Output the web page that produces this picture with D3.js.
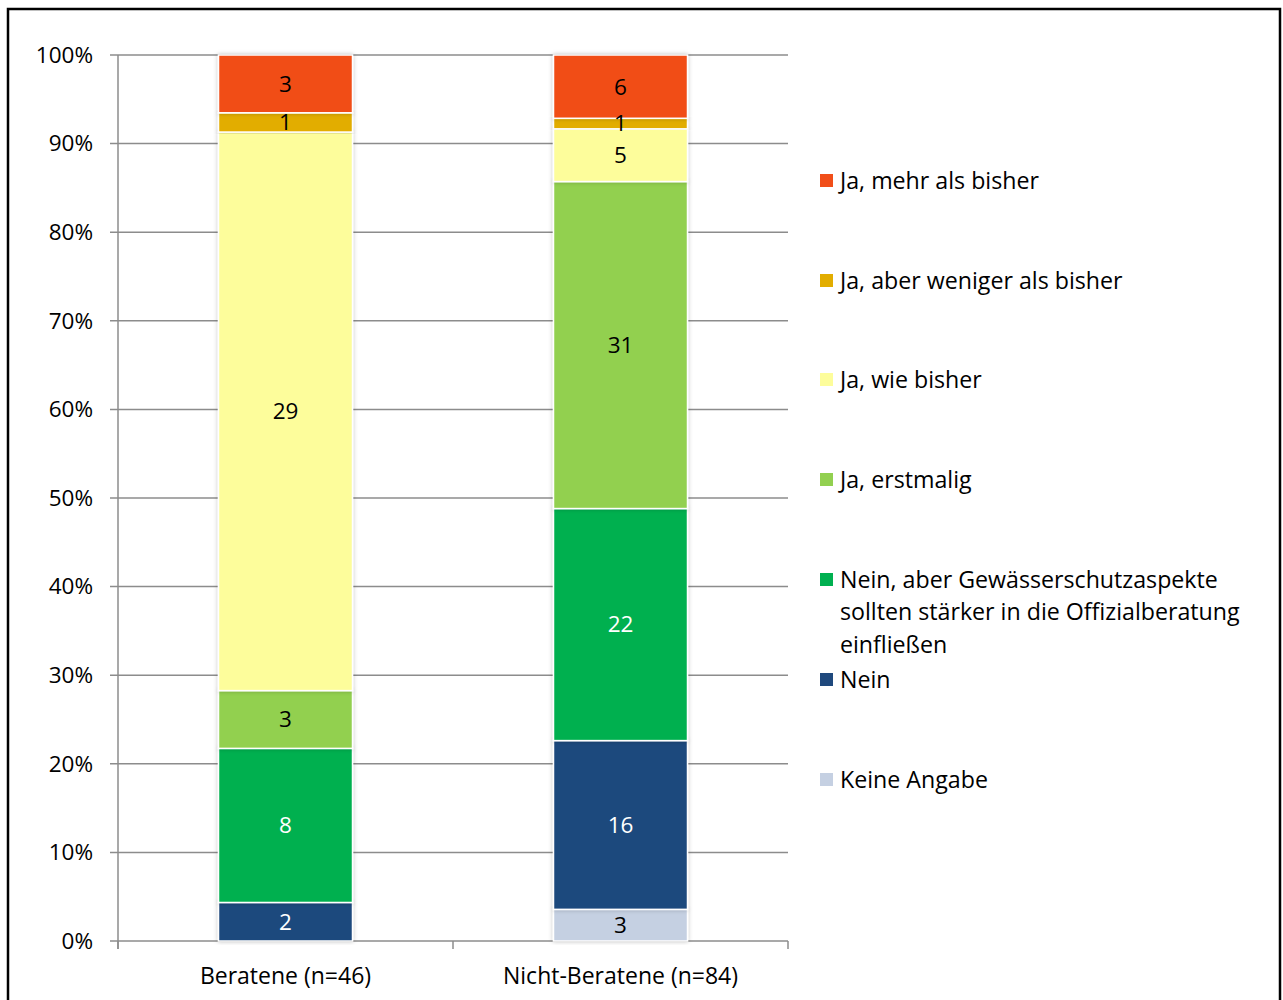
<!DOCTYPE html>
<html>
<head>
<meta charset="utf-8">
<script src="https://cdn.jsdelivr.net/npm/d3@7"></script>
<style>
  body { margin: 0; background: #fff; }
  svg { font-family: "Open Sans", "Noto Sans", sans-serif; }
</style>
</head>
<body>
<div id="chart"></div>
<script>
// categories (x axis)
var groups = ['Beratene (n=46)', 'Nicht-Beratene (n=84)']

// series, stacked bottom to top
var series = ['Keine Angabe', 'Nein', 'Nein, aber Gewässerschutzaspekte sollten stärker in die Offizialberatung einfließen',
  'Ja, erstmalig', 'Ja, wie bisher', 'Ja, aber weniger als bisher', 'Ja, mehr als bisher']
var colors = ['#c5d0e2', '#1f497d', '#00b050', '#92d050', '#fdfd9b', '#e2ad00', '#f14e19']
var labelColors = ['#000', '#fff', '#fff', '#000', '#000', '#000', '#000']

// counts per series, one value per group
var keineAngabe = [0, 3]
var nein = [2, 16]
var neinAber = [8, 22]
var erstmalig = [3, 31]
var wieBisher = [29, 5]
var weniger = [1, 1]
var mehr = [3, 6]
var counts = [keineAngabe, nein, neinAber, erstmalig, wieBisher, weniger, mehr]

var yTicks = [0, 0.1, 0.2, 0.3, 0.4, 0.5, 0.6, 0.7, 0.8, 0.9, 1]

// legend order (top to bottom) and wrapped lines
var legendOrder = [6, 5, 4, 3, 2, 1, 0]
var legendLines = {
  2: ['Nein, aber Gewässerschutzaspekte', 'sollten stärker in die Offizialberatung', 'einfließen']
}

var W = 1283
var H = 1000
var svg = d3.select('#chart').append('svg')
  .attr('width', W)
  .attr('height', H)

// outer frame
svg.append('rect')
  .attr('x', 8).attr('y', 9)
  .attr('width', 1272).attr('height', 1000)
  .attr('fill', 'none')
  .attr('stroke', '#000')
  .attr('stroke-width', 2.5)

var plot = { left: 118, right: 788, top: 55, bottom: 941 }

var x = d3.scaleBand()
  .domain(groups)
  .range([plot.left, plot.right])
  .paddingInner(0.6)
  .paddingOuter(0.3)

var y = d3.scaleLinear()
  .domain([0, 1])
  .range([plot.bottom, plot.top])

// build table of rows for d3.stack
var table = groups.map(function (g, gi) {
  var total = d3.sum(counts, function (c) { return c[gi] })
  var row = { group: g }
  series.forEach(function (s, si) { row[s] = counts[si][gi] / total })
  return row
})
var stacked = d3.stack().keys(series)(table)

// gridlines
svg.append('g')
  .selectAll('line')
  .data(yTicks)
  .join('line')
  .attr('x1', plot.left - 8)
  .attr('x2', plot.right)
  .attr('y1', function (d) { return y(d) })
  .attr('y2', function (d) { return y(d) })
  .attr('stroke', '#8c8c8c')
  .attr('stroke-width', 1.5)

// y axis line
svg.append('line')
  .attr('x1', plot.left).attr('x2', plot.left)
  .attr('y1', plot.top).attr('y2', plot.bottom + 8)
  .attr('stroke', '#8c8c8c')
  .attr('stroke-width', 1.5)

// x axis ticks between categories
var xBounds = [plot.left, (plot.left + plot.right) / 2, plot.right]
svg.append('g')
  .selectAll('line')
  .data(xBounds)
  .join('line')
  .attr('x1', function (d) { return d })
  .attr('x2', function (d) { return d })
  .attr('y1', plot.bottom)
  .attr('y2', plot.bottom + 8)
  .attr('stroke', '#8c8c8c')
  .attr('stroke-width', 1.5)

// y tick labels
svg.append('g')
  .selectAll('text')
  .data(yTicks)
  .join('text')
  .attr('x', 93)
  .attr('y', function (d) { return y(d) })
  .attr('dy', '0.35em')
  .attr('text-anchor', 'end')
  .attr('font-size', 22.5)
  .attr('fill', '#000')
  .text(function (d) { return d3.format('.0%')(d) })

// x tick labels
svg.append('g')
  .selectAll('text')
  .data(groups)
  .join('text')
  .attr('x', function (d) { return x(d) + x.bandwidth() / 2 })
  .attr('y', 984)
  .attr('text-anchor', 'middle')
  .attr('font-size', 23)
  .attr('fill', '#000')
  .text(function (d) { return d })

// bar shadow filter
var defs = svg.append('defs')
var filter = defs.append('filter').attr('id', 'shadow')
  .attr('x', '-10%').attr('y', '-10%').attr('width', '120%').attr('height', '120%')
filter.append('feDropShadow')
  .attr('dx', 0).attr('dy', 0)
  .attr('stdDeviation', 2)
  .attr('flood-color', '#000')
  .attr('flood-opacity', 0.25)

// stacked bars
var layers = svg.append('g')
  .selectAll('g')
  .data(stacked)
  .join('g')
  .attr('fill', function (d, i) { return colors[i] })

layers.selectAll('rect')
  .data(function (d) { return d })
  .join('rect')
  .filter(function (d) { return d[1] - d[0] > 0 })
  .attr('x', function (d) { return x(d.data.group) })
  .attr('y', function (d) { return y(d[1]) })
  .attr('width', x.bandwidth())
  .attr('height', function (d) { return y(d[0]) - y(d[1]) })
  .attr('stroke', '#fff')
  .attr('stroke-width', 1.5)
  .attr('filter', 'url(#shadow)')

// value labels
stacked.forEach(function (layer, si) {
  svg.append('g')
    .selectAll('text')
    .data(layer.filter(function (d) { return d[1] - d[0] > 0 }))
    .join('text')
    .attr('x', function (d) { return x(d.data.group) + x.bandwidth() / 2 })
    .attr('y', function (d) { return y((d[0] + d[1]) / 2) })
    .attr('dy', '0.35em')
    .attr('text-anchor', 'middle')
    .attr('font-size', 22.5)
    .attr('fill', labelColors[si])
    .text(function (d) { return counts[si][groups.indexOf(d.data.group)] })
})

// legend
var legendY = [181, 281, 380, 480, 580, 680, 780]
var legend = svg.append('g')
  .selectAll('g')
  .data(legendOrder)
  .join('g')
  .attr('transform', function (d, i) { return 'translate(820,' + legendY[i] + ')' })

legend.append('rect')
  .attr('x', 0).attr('y', -7)
  .attr('width', 13).attr('height', 13)
  .attr('fill', function (d) { return colors[d] })

legend.append('text')
  .attr('x', 20)
  .attr('y', 0)
  .attr('font-size', 23.2)
  .attr('fill', '#000')
  .each(function (d) {
    var lines = legendLines[d] || [series[d]]
    d3.select(this).selectAll('tspan')
      .data(lines)
      .join('tspan')
      .attr('x', 20)
      .attr('dy', function (l, i) { return i === 0 ? '0.35em' : '1.39em' })
      .text(function (l) { return l })
  })
</script>
</body>
</html>
